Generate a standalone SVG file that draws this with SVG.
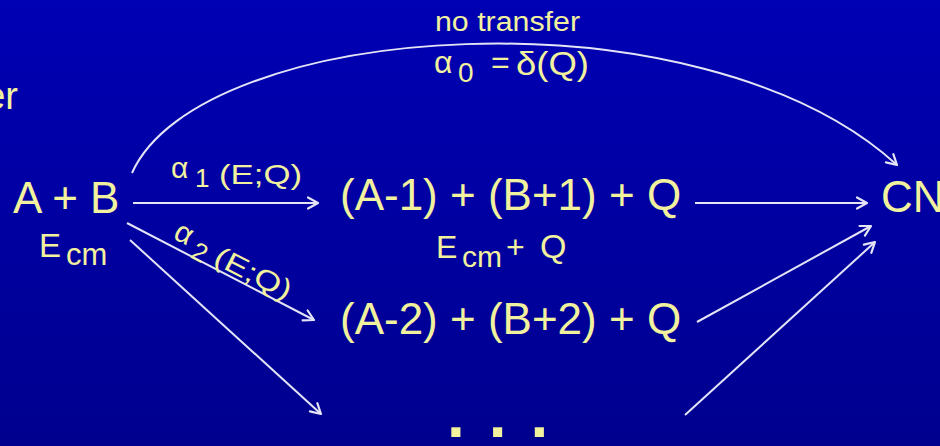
<svg xmlns="http://www.w3.org/2000/svg" width="940" height="446" viewBox="0 0 940 446">
<defs>
<linearGradient id="bg" x1="0" y1="0" x2="0" y2="1">
<stop offset="0" stop-color="#0000b4"/>
<stop offset="1" stop-color="#00008e"/>
</linearGradient>
<marker id="arr" viewBox="0 0 14 14" refX="12" refY="7" markerWidth="14" markerHeight="14" markerUnits="userSpaceOnUse" orient="auto">
<path d="M2,1.5 L12,7 L2,12.5" fill="none" stroke="#e4e4f6" stroke-width="2.2" stroke-linecap="round" stroke-linejoin="round"/>
</marker>
<style>
text{font-family:"Liberation Sans",Arial,sans-serif;fill:#f2f29e}
.big{font-size:44px}
.lbl{font-size:28px}
.sub{font-size:26px}
.conn{fill:none;stroke:#e4e4f6;stroke-width:2;marker-end:url(#arr)}
</style>
</defs>
<rect width="940" height="446" fill="url(#bg)"/>
<text x="18" y="109" font-size="38" text-anchor="end">er</text>
<g id="connectors">
<path class="conn" d="M132,173 C200,20 700,-15 897,165"/>
<path class="conn" d="M133,203 L318,203"/>
<path class="conn" d="M127,223 L314,320"/>
<path class="conn" d="M130,240 L321,414"/>
<path class="conn" d="M695,203 L867,203"/>
<path class="conn" d="M697,322 L871,226"/>
<path class="conn" d="M685,415 L875,242"/>
</g>
<g id="label-no-transfer">
<text x="435" y="31" font-size="27" textLength="145" lengthAdjust="spacingAndGlyphs">no transfer</text>
<text x="434" y="73" font-size="32">α</text>
<text x="458" y="82" font-size="28">0</text>
<text x="491" y="73" font-size="32">=</text>
<text x="516" y="75" font-size="34" textLength="73" lengthAdjust="spacingAndGlyphs">δ(Q)</text>
</g>
<g id="node-AB">
<text class="big" x="13" y="213" font-size="43">A + B</text>
<text x="39" y="257" font-size="33">E</text>
<text x="66" y="265" font-size="31">cm</text>
</g>
<g id="label-alpha1">
<text x="171" y="178" font-size="30">α</text>
<text x="195" y="187" class="sub">1</text>
<text x="219" y="184" class="lbl" textLength="83" lengthAdjust="spacingAndGlyphs">(E;Q)</text>
</g>
<g id="label-alpha2" transform="translate(172,238) rotate(27)">
<text x="0" y="0" font-size="30">α</text>
<text x="24" y="9" class="sub">2</text>
<text x="47" y="4" class="lbl" textLength="83" lengthAdjust="spacingAndGlyphs">(E;Q)</text>
</g>
<g id="node-A1B1">
<text class="big" x="340" y="210">(A-1) + (B+1) + Q</text>
<text x="436" y="258" font-size="32">E</text>
<text x="462" y="267" font-size="30">cm</text>
<text x="506" y="258" font-size="32">+</text>
<text x="540" y="258" font-size="34">Q</text>
</g>
<g id="node-A2B2">
<text class="big" x="340" y="334">(A-2) + (B+2) + Q</text>
</g>
<g id="node-dots">
<text x="447" y="437" font-size="64" font-weight="bold" letter-spacing="24">...</text>
</g>
<g id="node-CN">
<text class="big" x="881" y="212">CN</text>
</g>
</svg>
